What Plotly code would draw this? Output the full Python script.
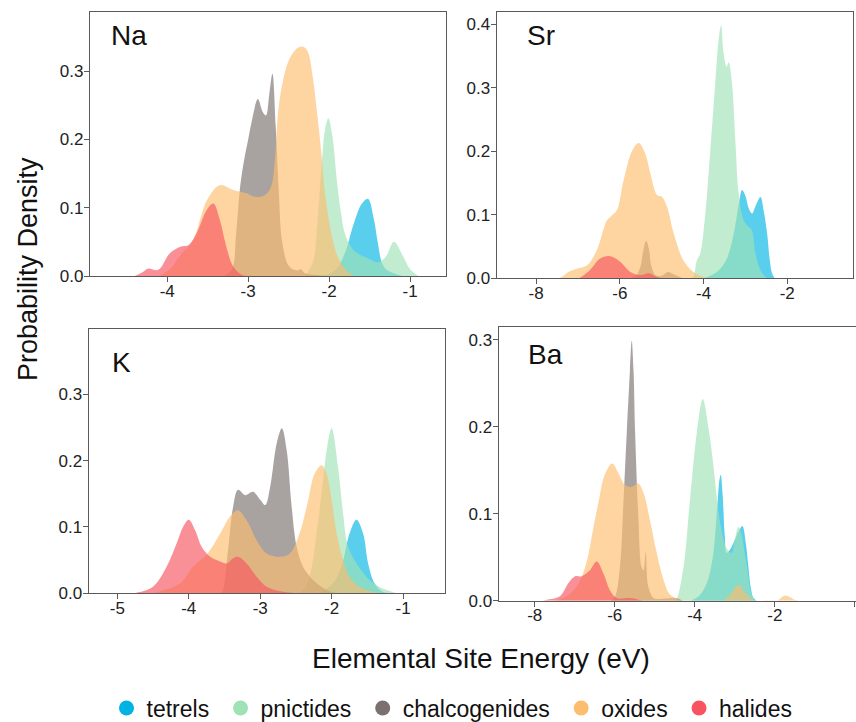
import plotly.graph_objects as go

W, H = 856, 722

CLASSES = ['tetrels', 'pnictides', 'chalcogenides', 'oxides', 'halides']
COLORS = ['#00b3e3', '#9fe2b5', '#7a716e', '#fdbd6e', '#f8545f']
ALPHA = 0.65

# ---- Na ----
NA_TETRELS_X = [-2.2, -2.0, -1.9, -1.8, -1.7, -1.6, -1.52, -1.45, -1.4, -1.35, -1.3, -1.2, -1.1]
NA_TETRELS_Y = [0, 0.003, 0.012, 0.035, 0.075, 0.105, 0.113, 0.085, 0.05, 0.02, 0.01, 0.004, 0]
NA_PNICT_X = [-2.3, -2.2, -2.15, -2.1, -2.05, -2.01, -1.96, -1.9, -1.85, -1.8, -1.7, -1.6, -1.5,
              -1.4, -1.3, -1.2, -1.1, -1.0, -0.9]
NA_PNICT_Y = [0, 0.02, 0.07, 0.15, 0.215, 0.231, 0.205, 0.135, 0.09, 0.06, 0.038, 0.03, 0.025,
              0.02, 0.028, 0.05, 0.032, 0.01, 0]
NA_CHALC_X = [-3.3, -3.2, -3.15, -3.1, -3.05, -3.0, -2.95, -2.88, -2.82, -2.78, -2.74, -2.7, -2.66,
              -2.62, -2.58, -2.5, -2.4, -2.35, -2.3, -2.2, -2.0]
NA_CHALC_Y = [0, 0.01, 0.06, 0.13, 0.17, 0.2, 0.23, 0.259, 0.24, 0.235, 0.265, 0.296, 0.22,
              0.12, 0.05, 0.015, 0.008, 0.01, 0.004, 0.002, 0]
NA_OXIDE_X = [-4.1, -3.97, -3.84, -3.68, -3.51, -3.35, -3.185, -3.02, -2.92, -2.8, -2.72, -2.67,
              -2.63, -2.58, -2.5, -2.4, -2.33, -2.27, -2.2, -2.15, -2.1, -2.05, -2.0, -1.95, -1.9,
              -1.8, -1.7]
NA_OXIDE_Y = [0, 0.01, 0.03, 0.053, 0.111, 0.133, 0.126, 0.121, 0.116, 0.118, 0.13, 0.17,
              0.24, 0.28, 0.315, 0.333, 0.336, 0.33, 0.29, 0.24, 0.185, 0.12, 0.08, 0.05, 0.03,
              0.01, 0]
NA_HALIDE_X = [-4.4, -4.3, -4.235, -4.11, -3.97, -3.84, -3.74, -3.64, -3.51, -3.43, -3.35, -3.27,
               -3.185, -3.08, -3.0]
NA_HALIDE_Y = [0, 0.006, 0.011, 0.009, 0.033, 0.043, 0.045, 0.062, 0.097, 0.106, 0.082, 0.043,
               0.014, 0.002, 0]

# ---- Sr ----
SR_TETRELS_X = [-4.0, -3.8, -3.6, -3.45, -3.35, -3.25, -3.15, -3.08, -3.0, -2.92, -2.84, -2.75,
                -2.64, -2.56, -2.48, -2.42, -2.36, -2.3]
SR_TETRELS_Y = [0, 0.005, 0.015, 0.03, 0.05, 0.08, 0.12, 0.139, 0.13, 0.11, 0.102, 0.115,
                0.128, 0.105, 0.07, 0.03, 0.007, 0]
SR_PNICT_X = [-4.3, -4.24, -4.16, -4.08, -3.96, -3.84, -3.72, -3.64, -3.58, -3.52, -3.45, -3.4,
              -3.32, -3.24, -3.16, -3.04, -2.92, -2.84, -2.76, -2.64, -2.5]
SR_PNICT_Y = [0, 0.003, 0.028, 0.039, 0.1, 0.2, 0.307, 0.375, 0.398, 0.354, 0.333, 0.34,
              0.307, 0.217, 0.133, 0.091, 0.081, 0.075, 0.039, 0.013, 0]
SR_CHALC_X = [-5.75, -5.6, -5.5, -5.45, -5.37, -5.3, -5.25, -5.15, -5.0, -4.85, -4.7, -4.5]
SR_CHALC_Y = [0, 0.005, 0.02, 0.04, 0.059, 0.045, 0.02, 0.005, 0.004, 0.01, 0.006, 0]
SR_OXIDE_X = [-7.5, -7.39, -7.23, -7.03, -6.79, -6.55, -6.31, -6.19, -6.07, -5.91, -5.71, -5.55,
              -5.39, -5.27, -5.11, -4.99, -4.87, -4.71, -4.48, -4.24, -4.0, -3.8]
SR_OXIDE_Y = [0, 0.002, 0.01, 0.015, 0.02, 0.044, 0.091, 0.099, 0.107, 0.154, 0.2, 0.213,
              0.196, 0.165, 0.131, 0.128, 0.112, 0.07, 0.028, 0.01, 0.002, 0]
SR_HALIDE_X = [-7.0, -6.95, -6.71, -6.47, -6.25, -5.99, -5.75, -5.51, -5.31, -5.11, -5.0]
SR_HALIDE_Y = [0, 0.001, 0.013, 0.031, 0.035, 0.026, 0.01, 0.005, 0.008, 0.002, 0]

# ---- K ----
K_TETRELS_X = [-2.2, -2.1, -1.95, -1.85, -1.75, -1.653, -1.56, -1.49, -1.4, -1.3, -1.2]
K_TETRELS_Y = [0, 0.005, 0.02, 0.045, 0.09, 0.111, 0.09, 0.045, 0.015, 0.003, 0]
K_PNICT_X = [-2.5, -2.4, -2.3, -2.2, -2.12, -2.07, -2.0, -1.91, -1.84, -1.77, -1.65, -1.47, -1.3,
             -1.23, -1.09]
K_PNICT_Y = [0, 0.005, 0.03, 0.1, 0.171, 0.216, 0.249, 0.19, 0.12, 0.07, 0.045, 0.02, 0.008,
             0.005, 0]
K_CHALC_X = [-3.55, -3.52, -3.45, -3.38, -3.31, -3.21, -3.10, -3.0, -2.93, -2.86, -2.77, -2.697,
             -2.63, -2.56, -2.49, -2.40, -2.26, -2.07, -1.93]
K_CHALC_Y = [0, 0.005, 0.065, 0.13, 0.156, 0.148, 0.153, 0.141, 0.133, 0.161, 0.226, 0.249,
             0.216, 0.131, 0.07, 0.04, 0.02, 0.005, 0]
K_OXIDE_X = [-4.5, -4.4, -4.12, -3.94, -3.75, -3.56, -3.42, -3.31, -3.19, -3.05, -2.91, -2.72,
             -2.585, -2.45, -2.33, -2.24, -2.14, -2.07, -2.0, -1.93, -1.84, -1.75, -1.61, -1.37, -1.2]
K_OXIDE_Y = [0, 0.003, 0.015, 0.04, 0.058, 0.09, 0.116, 0.125, 0.11, 0.08, 0.06, 0.055,
             0.06, 0.09, 0.14, 0.18, 0.193, 0.18, 0.14, 0.09, 0.05, 0.025, 0.01, 0.001, 0]
K_HALIDE_X = [-4.8, -4.73, -4.5, -4.31, -4.17, -4.08, -4.0, -3.91, -3.82, -3.70, -3.56, -3.47,
              -3.38, -3.31, -3.19, -3.05, -2.91, -2.72, -2.5]
K_HALIDE_Y = [0, 0.001, 0.01, 0.04, 0.075, 0.1, 0.111, 0.095, 0.07, 0.055, 0.048, 0.045,
              0.053, 0.055, 0.045, 0.025, 0.01, 0.003, 0]

# ---- Ba ----
BA_TETRELS_X = [-4.1, -3.9, -3.7, -3.55, -3.45, -3.38, -3.35, -3.3, -3.25, -3.2, -3.1, -3.0,
                -2.9, -2.81, -2.72, -2.66, -2.6, -2.53, -2.45]
BA_TETRELS_Y = [0, 0.005, 0.02, 0.05, 0.1, 0.14, 0.145, 0.12, 0.075, 0.055, 0.06, 0.07,
                0.08, 0.086, 0.065, 0.039, 0.015, 0.003, 0]
BA_PNICT_X = [-4.5, -4.45, -4.28, -4.12, -3.95, -3.8, -3.66, -3.53, -3.4, -3.3, -3.2, -3.08,
              -3.0, -2.91, -2.85, -2.75, -2.68, -2.6, -2.5]
BA_PNICT_Y = [0, 0.002, 0.039, 0.116, 0.193, 0.232, 0.2, 0.154, 0.1, 0.075, 0.06, 0.055,
              0.07, 0.085, 0.08, 0.055, 0.035, 0.01, 0]
BA_CHALC_X = [-6.1, -5.99, -5.87, -5.78, -5.70, -5.62, -5.575, -5.53, -5.49, -5.41, -5.33, -5.28,
              -5.225, -5.16, -5.03, -4.9, -4.5, -4.3]
BA_CHALC_Y = [0, 0.005, 0.039, 0.116, 0.193, 0.265, 0.299, 0.265, 0.193, 0.097, 0.039, 0.035,
              0.056, 0.016, 0.003, 0.002, 0.003, 0]
BA_OXIDE_X = [-7.5, -7.2, -6.9, -6.7, -6.55, -6.4, -6.25, -6.06, -5.91, -5.74, -5.575, -5.41,
              -5.28, -5.12, -4.95, -4.78, -4.62, -4.37, -4.2, -3.3, -3.1, -2.91, -2.75, -2.55,
              -2.3, -1.95, -1.74, -1.5, -1.4]
BA_OXIDE_Y = [0, 0.005, 0.02, 0.045, 0.08, 0.115, 0.145, 0.158, 0.147, 0.133, 0.131, 0.135,
              0.124, 0.093, 0.055, 0.024, 0.007, 0.001, 0, 0, 0.008, 0.018, 0.01, 0.001,
              0, 0, 0.006, 0.001, 0]
BA_HALIDE_X = [-7.8, -7.7, -7.37, -7.16, -6.99, -6.83, -6.62, -6.45, -6.28, -6.12, -5.95, -5.62, -5.3]
BA_HALIDE_Y = [0, 0.001, 0.005, 0.02, 0.028, 0.028, 0.035, 0.045, 0.031, 0.012, 0.003, 0.003, 0]

# panel labels and ticks
PANEL_NAMES = ['Na', 'Sr', 'K', 'Ba']
NA_XTICKS = [-4, -3, -2, -1]
SR_XTICKS = [-8, -6, -4, -2]
K_XTICKS = [-5, -4, -3, -2, -1]
BA_XTICKS = [-8, -6, -4, -2, 0]
NA_YTICKS = [0.0, 0.1, 0.2, 0.3]
SR_YTICKS = [0.0, 0.1, 0.2, 0.3, 0.4]
K_YTICKS = [0.0, 0.1, 0.2, 0.3]
BA_YTICKS = [0.0, 0.1, 0.2, 0.3]

panels = [
    dict(series=[(NA_TETRELS_X, NA_TETRELS_Y), (NA_PNICT_X, NA_PNICT_Y), (NA_CHALC_X, NA_CHALC_Y),
                 (NA_OXIDE_X, NA_OXIDE_Y), (NA_HALIDE_X, NA_HALIDE_Y)],
         xt=NA_XTICKS, yt=NA_YTICKS, xr=[-4.954, -0.556], yr=[0, 0.3865],
         box=(90, 446, 12, 276), label=(109, 36)),
    dict(series=[(SR_TETRELS_X, SR_TETRELS_Y), (SR_PNICT_X, SR_PNICT_Y), (SR_CHALC_X, SR_CHALC_Y),
                 (SR_OXIDE_X, SR_OXIDE_Y), (SR_HALIDE_X, SR_HALIDE_Y)],
         xt=SR_XTICKS, yt=SR_YTICKS, xr=[-8.94, -0.43], yr=[0, 0.419],
         box=(496.7, 853, 12, 278.3), label=(525, 36)),
    dict(series=[(K_TETRELS_X, K_TETRELS_Y), (K_PNICT_X, K_PNICT_Y), (K_CHALC_X, K_CHALC_Y),
                 (K_OXIDE_X, K_OXIDE_Y), (K_HALIDE_X, K_HALIDE_Y)],
         xt=K_XTICKS, yt=K_YTICKS, xr=[-5.4, -0.41], yr=[0, 0.398],
         box=(88.7, 445.3, 329.3, 593.3), label=(110, 362)),
    dict(series=[(BA_TETRELS_X, BA_TETRELS_Y), (BA_PNICT_X, BA_PNICT_Y), (BA_CHALC_X, BA_CHALC_Y),
                 (BA_OXIDE_X, BA_OXIDE_Y), (BA_HALIDE_X, BA_HALIDE_Y)],
         xt=BA_XTICKS, yt=BA_YTICKS, xr=[-8.9, 0.03], yr=[0, 0.3146],
         box=(498.7, 856, 327.3, 600.7), label=(526, 354)),
]


def rgba(hexcol, a):
    h = hexcol.lstrip('#')
    r, g, b = int(h[0:2], 16), int(h[2:4], 16), int(h[4:6], 16)
    return f'rgba({r},{g},{b},{a})'


FONT = 'Liberation Sans, Arial, sans-serif'
fig = go.Figure()
layout = {}
annotations = []

for i, p in enumerate(panels):
    n = i + 1
    xa = 'x' if n == 1 else f'x{n}'
    ya = 'y' if n == 1 else f'y{n}'
    for cls, col, (xs, ys) in zip(CLASSES, COLORS, p['series']):
        fig.add_trace(go.Scatter(
            x=xs, y=ys, xaxis=xa, yaxis=ya, mode='lines',
            line=dict(width=0, shape='spline', smoothing=1.0, color=col),
            fill='tozeroy', fillcolor=rgba(col, ALPHA),
            name=cls, showlegend=False, hoverinfo='skip'))

    x0, x1, y0, y1 = p['box']
    common = dict(showline=True, linecolor='#5a5a5a', linewidth=1.3, mirror=True,
                  ticks='outside', ticklen=5, tickwidth=1, tickcolor='#5a5a5a',
                  showgrid=False, zeroline=False,
                  tickfont=dict(family=FONT, size=17, color='#222'))
    layout['xaxis' if n == 1 else f'xaxis{n}'] = dict(
        common, domain=[x0 / W, min(x1 / W, 1.0)], range=p['xr'], anchor=ya,
        tickvals=p['xt'], ticktext=[str(v) for v in p['xt']], ticklabelstandoff=-6)
    layout['yaxis' if n == 1 else f'yaxis{n}'] = dict(
        common, domain=[1 - y1 / H, 1 - y0 / H], range=p['yr'], anchor=xa,
        tickvals=p['yt'], ticktext=[f'{v:.1f}' for v in p['yt']], ticklabelstandoff=-3)
    lx, ly = p['label']
    annotations.append(dict(text=PANEL_NAMES[i], x=lx / W, y=1 - ly / H, xref='paper', yref='paper',
                            xanchor='left', yanchor='middle', showarrow=False,
                            font=dict(family=FONT, size=28, color='#111')))

# legend entries as circles (a trailing no-break space widens the gap between entries)
for k, (cls, col) in enumerate(zip(CLASSES, COLORS)):
    label = cls + ('\u00a0' if k < len(CLASSES) - 1 else '')
    fig.add_trace(go.Scatter(x=[None], y=[None], mode='markers', name=label,
                             marker=dict(symbol='circle', size=15, color=col),
                             xaxis='x', yaxis='y'))

annotations.append(dict(text='Probability Density', x=28 / W, y=1 - 269 / H,
                        xref='paper', yref='paper', textangle=-90, showarrow=False,
                        xanchor='center', yanchor='middle',
                        font=dict(family=FONT, size=27, color='#111')))
annotations.append(dict(text='Elemental Site Energy (eV)', x=481 / W, y=1 - 658 / H,
                        xref='paper', yref='paper', showarrow=False,
                        xanchor='center', yanchor='middle',
                        font=dict(family=FONT, size=28, color='#111')))

fig.update_layout(
    **layout,
    width=W, height=H, autosize=False,
    margin=dict(l=0, r=0, t=0, b=0, autoexpand=False),
    paper_bgcolor='white', plot_bgcolor='white',
    annotations=annotations,
    showlegend=True,
    legend=dict(orientation='h', x=452 / W, xanchor='center', y=1 - 708 / H, yanchor='middle',
                font=dict(family=FONT, size=23, color='#111'), bgcolor='rgba(0,0,0,0)'),
)

# drop the browser's default body margin so the figure sits at the page origin
fig.write_html('out.html', config={'displayModeBar': False},
               post_script="document.body.style.margin='0';")
